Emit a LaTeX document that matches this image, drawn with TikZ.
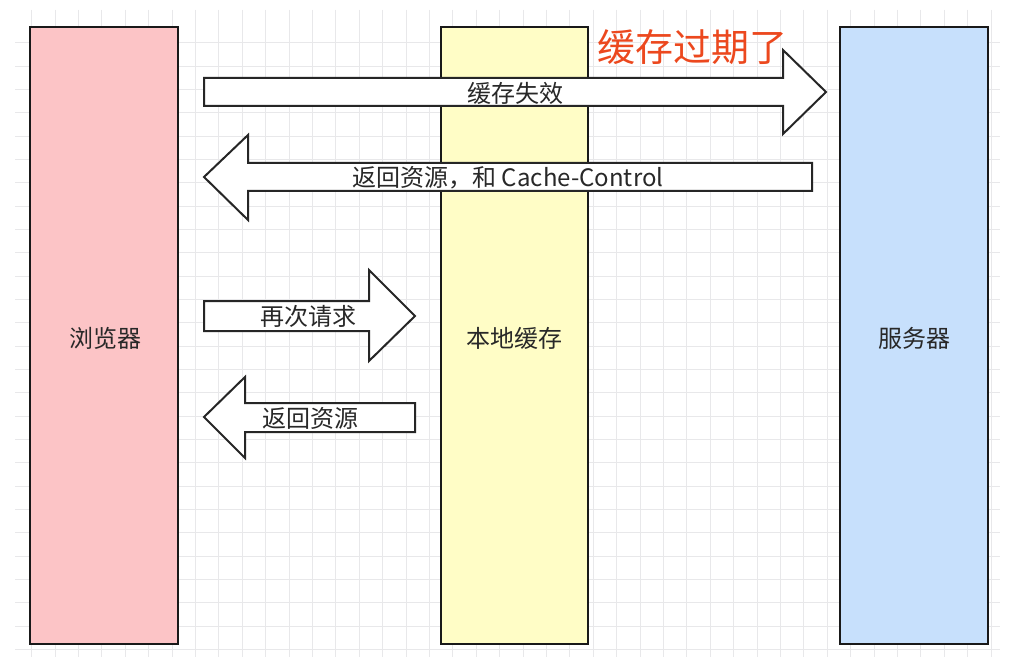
\documentclass[tikz,border=0pt]{standalone}
\usepackage{fontspec}
\newfontfamily\cjk{Noto Sans CJK SC}
\definecolor{gridc}{RGB}{232,232,234}
\definecolor{pinkc}{RGB}{252,196,198}
\definecolor{yellowc}{RGB}{255,253,198}
\definecolor{bluec}{RGB}{199,224,252}
\definecolor{txt}{RGB}{40,40,40}
\definecolor{redc}{RGB}{236,72,30}
\begin{document}
\begin{tikzpicture}[x=1pt,y=-1pt,
  box/.style={draw=black!90,line width=1.6pt},
  arr/.style={draw=black!85,fill=white,line width=2pt,line join=miter},
  lbl/.style={font=\cjk\fontsize{24}{27}\selectfont,text=txt,inner sep=0pt},
  title/.style={font=\cjk\fontsize{38}{43}\selectfont,text=redc,inner sep=0pt}]
\useasboundingbox (0,0) rectangle (1011,668);
\fill[white] (0,0) rectangle (1011,668);
% grid
\foreach \i in {0,...,41} \draw[gridc,line width=0.9pt] ({31.7+23.4*\i},10) -- ({31.7+23.4*\i},657);
\foreach \j in {0,...,26} \draw[gridc,line width=0.9pt] (15,{42.7+23.33*\j}) -- (1000,{42.7+23.33*\j});
% boxes
\draw[box,fill=pinkc] (30,27) rectangle (178,644);
\draw[box,fill=yellowc] (441,27) rectangle (588,644);
\draw[box,fill=bluec] (840,27) rectangle (988,644);
\node[lbl] (browser) at (105,338) {浏览器};
\node[lbl] (cache) at (514,338) {本地缓存};
\node[lbl] (server) at (914,338) {服务器};
% arrow 1
\draw[arr] (204,78) -- (783,78) -- (783,50) -- (826,92) -- (783,134) -- (783,106) -- (204,106) -- cycle;
\node[lbl] (a1) at (515,93) {缓存失效};
% arrow 2
\draw[arr] (812,163) -- (248,163) -- (248,135) -- (204,177) -- (248,220) -- (248,191) -- (812,191) -- cycle;
\node[lbl] (a2) at (508,178) {返回资源，和 Cache-Control};
% arrow 3
\draw[arr] (204,301) -- (369,301) -- (369,270) -- (415,316) -- (369,361) -- (369,331) -- (204,331) -- cycle;
\node[lbl] (a3) at (308,316) {再次请求};
% arrow 4
\draw[arr] (415,403) -- (245,403) -- (245,377) -- (204,417) -- (245,458) -- (245,432) -- (415,432) -- cycle;
\node[lbl] (a4) at (310,418) {返回资源};
% title
\node[title] (t) at (692,47) {缓存过期了};
\end{tikzpicture}
\end{document}
